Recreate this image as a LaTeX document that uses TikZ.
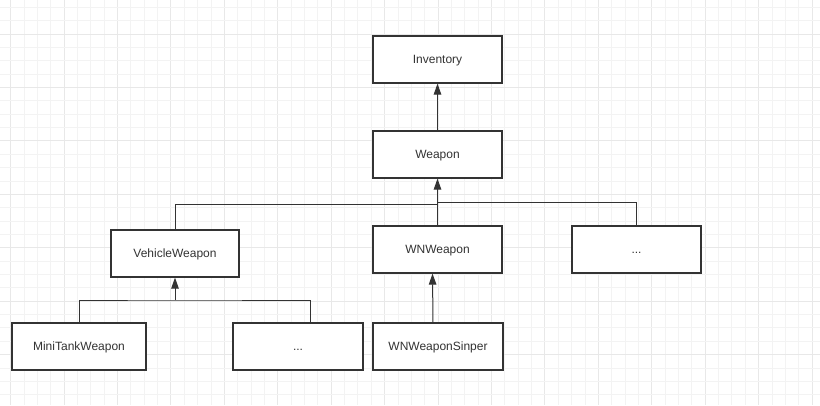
\documentclass[tikz,border=0pt]{standalone}
\usepackage{fontspec}
\setmainfont{Liberation Sans}
\usetikzlibrary{arrows.meta}
\definecolor{gridminor}{HTML}{F3F3F3}
\definecolor{gridmajor}{HTML}{E8E8E8}
\definecolor{boxline}{HTML}{333333}
\definecolor{boxtext}{HTML}{333333}
\tikzset{
  classbox/.style={rectangle, draw=boxline, line width=1.2pt, fill=white,
    minimum width=129pt, minimum height=47pt, inner sep=0pt,
    text height=8.6pt, text depth=0pt,
    text=boxtext, font=\fontsize{12pt}{14pt}\selectfont},
  link/.style={draw=boxline, line width=1pt},
  inherit/.style={link, -{Triangle[length=11pt,width=7.5pt]}}
}
\begin{document}
\begin{tikzpicture}[x=1pt, y=-1pt]
    \path[use as bounding box, fill=white] (0,0) rectangle (820,405);

    % background grid
    \foreach \i in {0,...,60} {
      \pgfmathtruncatemacro{\major}{mod(\i,4)==0}
      \ifnum\major=1
        \draw[gridmajor, line width=1pt] ({10.6+\i*13.357},0) -- ({10.6+\i*13.357},405);
      \else
        \draw[gridminor, line width=0.8pt] ({10.6+\i*13.357},0) -- ({10.6+\i*13.357},405);
      \fi
    }
    \foreach \j in {0,...,29} {
      \pgfmathtruncatemacro{\major}{mod(\j,4)==2}
      \ifnum\major=1
        \draw[gridmajor, line width=1pt] (0,{7.3+\j*13.357}) -- (820,{7.3+\j*13.357});
      \else
        \draw[gridminor, line width=0.8pt] (0,{7.3+\j*13.357}) -- (820,{7.3+\j*13.357});
      \fi
    }

    % classes
    \node[classbox] (inventory) at (437.5,59.5)  {Inventory};
    \node[classbox] (weapon)    at (437.5,154.5) {Weapon};
    \node[classbox, minimum width=128pt] (vehicle) at (175,253.5) {VehicleWeapon};
    \node[classbox] (wnweapon)  at (437.5,249.5) {WNWeapon};
    \node[classbox] (moreweapon) at (636.5,249.5) {...};
    \node[classbox, minimum width=134pt] (minitank) at (79,346.5) {MiniTankWeapon};
    \node[classbox, minimum width=130pt] (morevehicle) at (298,346.5) {...};
    \node[classbox, minimum width=130pt] (sinper) at (438,346.5) {WNWeaponSinper};

    % junctions
    \coordinate (joinleft)  at (437.5,204);
    \coordinate (joinright) at (437.5,202);
    \coordinate (joinvehicle) at (175,300);

    % inheritance
    \draw[inherit] (weapon.north) -- (inventory.south);
    \draw[inherit] (wnweapon.north) -- (weapon.south);
    \draw[link] (vehicle.north) |- (joinleft);
    \draw[link] (moreweapon.north) |- (joinright);
    \draw[inherit] (joinvehicle) -- (vehicle.south);
    \draw[link] (minitank.north) |- (joinvehicle) -| ([xshift=12pt]morevehicle.north);
    \draw[inherit] ([xshift=-5pt]sinper.north) -- ([xshift=-5pt]wnweapon.south);
\end{tikzpicture}
\end{document}
